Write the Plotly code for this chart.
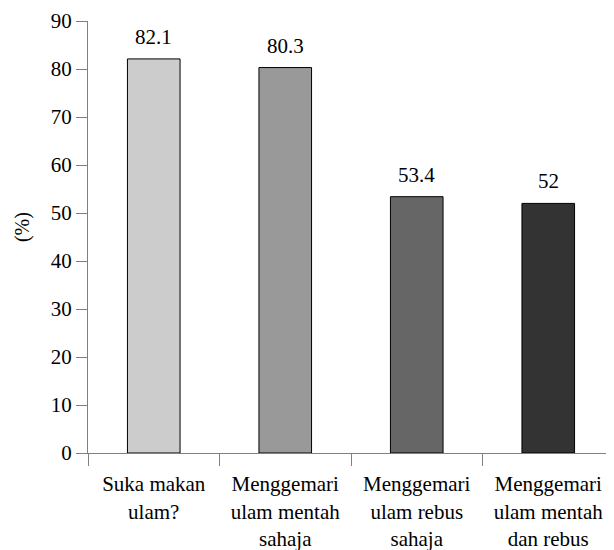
import plotly.graph_objects as go

categories = ["Suka makan<br>ulam?", "Menggemari<br>ulam mentah<br>sahaja",
              "Menggemari<br>ulam rebus<br>sahaja", "Menggemari<br>ulam mentah<br>dan rebus"]
values = [82.1, 80.3, 53.4, 52]
value_labels = ["82.1", "80.3", "53.4", "52"]
bar_colors = ["#cccccc", "#999999", "#666666", "#333333"]
y_ticks = [0, 10, 20, 30, 40, 50, 60, 70, 80, 90]
y_title = "(%)"

FONT = "Liberation Serif"
AXIS_COLOR = "#808080"

# the page body adds an 8px offset; size the figure so it ends at the window edge
fig = go.Figure()
fig.add_trace(go.Bar(
    x=categories, y=values,
    marker=dict(color=bar_colors, line=dict(color="black", width=1)),
    width=0.4,
    hoverinfo="skip",
))

for c, v, t in zip(categories, values, value_labels):
    fig.add_annotation(x=c, y=v, text=t, showarrow=False, yanchor="bottom",
                       yshift=8, font=dict(family=FONT, size=21, color="black"))

fig.add_annotation(xref="paper", yref="paper", x=-0.1255, y=0.523, text=y_title,
                   textangle=-90, showarrow=False, xanchor="center", yanchor="middle",
                   font=dict(family=FONT, size=20, color="black"))

fig.update_layout(
    width=606, height=542,
    margin=dict(l=80, r=0, t=13, b=97, autoexpand=False),
    plot_bgcolor="white", paper_bgcolor="white",
    font=dict(family=FONT, size=21, color="black"),
    showlegend=False,
    bargap=0.6,
)
fig.update_xaxes(
    type="category", range=[-0.5, 3.5], automargin=False,
    showline=True, linecolor=AXIS_COLOR, linewidth=1,
    ticks="outside", tickson="boundaries", ticklen=12, tickcolor=AXIS_COLOR,
    ticklabelstandoff=12,
    showgrid=False, zeroline=False,
    tickfont=dict(family=FONT, size=21, color="black"),
)
fig.update_yaxes(
    range=[0, 90], tickvals=y_ticks, automargin=False,
    showline=True, linecolor=AXIS_COLOR, linewidth=1,
    ticks="outside", ticklen=11, tickcolor=AXIS_COLOR,
    showgrid=False, zeroline=False,
    tickfont=dict(family=FONT, size=21, color="black"),
)

fig.write_html("out.html")
